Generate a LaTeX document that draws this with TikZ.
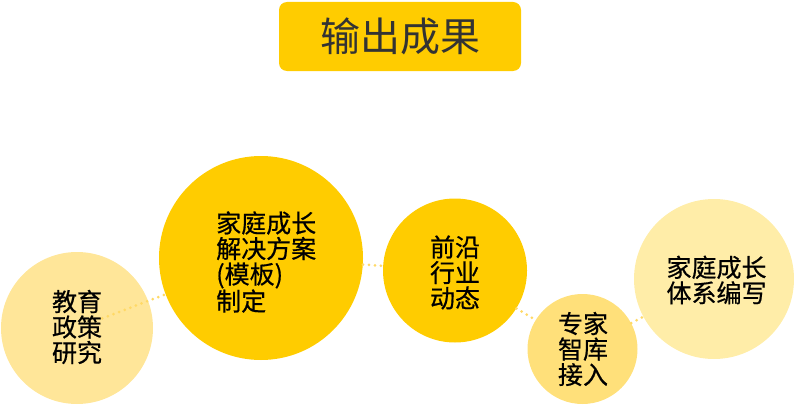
\documentclass[tikz,border=0pt]{standalone}
\usepackage{fontspec}
\newfontfamily\cjk{Noto Sans CJK SC}
\newfontfamily\cjkb[FakeBold=0.6]{Noto Sans CJK SC}
\definecolor{gold}{HTML}{FFCC00}
\definecolor{paleA}{HTML}{FFE699}
\definecolor{midY}{HTML}{FFE07A}
\definecolor{paleB}{HTML}{FFEDA8}
\definecolor{dotY}{HTML}{FFD966}
\definecolor{titletext}{HTML}{333333}
\begin{document}
\begin{tikzpicture}[x=1pt,y=-1pt,
  circ/.style={circle,draw=none,inner sep=0pt},
  lbl/.style={inner sep=0pt,align=center,font=\cjkb\fontsize{25}{25.5}\selectfont,text=black},
  titlebox/.style={rectangle,rounded corners=8pt,fill=gold,draw=none,minimum width=242pt,minimum height=69pt,inner sep=0pt,font=\cjk\fontsize{40}{40}\selectfont,text=titletext},
  conn/.style={draw=dotY,line width=3pt,line cap=round,dash pattern=on 0pt off 6pt}]
\useasboundingbox (0,0) rectangle (794,404);
\node[titlebox] (title) at (400,36.5) {输出成果};
% circles
\node[circ,fill=paleA,minimum size=152pt] (c1) at (77,328) {};
\node[circ,fill=gold,minimum size=204pt] (c2) at (261,258) {};
\node[circ,fill=gold,minimum size=144pt] (c3) at (455,270.5) {};
\node[circ,fill=midY,minimum size=110pt] (c4) at (582.5,349) {};
\node[circ,fill=paleB,minimum size=160pt] (c5) at (714,279) {};
% connectors
\draw[conn,shorten <=27pt] (c1.center) -- (c2);
\draw[conn] (c2) -- (c3);
\draw[conn] (c3) -- (c4);
\draw[conn] (c4) -- (c5);
% labels
\node[lbl] (t1) at (77,327) {教育\\政策\\研究};
\node[lbl,anchor=west,align=left] (t2) at (216,262) {家庭成长\\解决方案\\(模板)\\制定};
\node[lbl] (t3) at (455,272.5) {前沿\\行业\\动态};
\node[lbl] (t4) at (583,349) {专家\\智库\\接入};
\node[lbl] (t5) at (716.5,280) {家庭成长\\体系编写};
\end{tikzpicture}
\end{document}
